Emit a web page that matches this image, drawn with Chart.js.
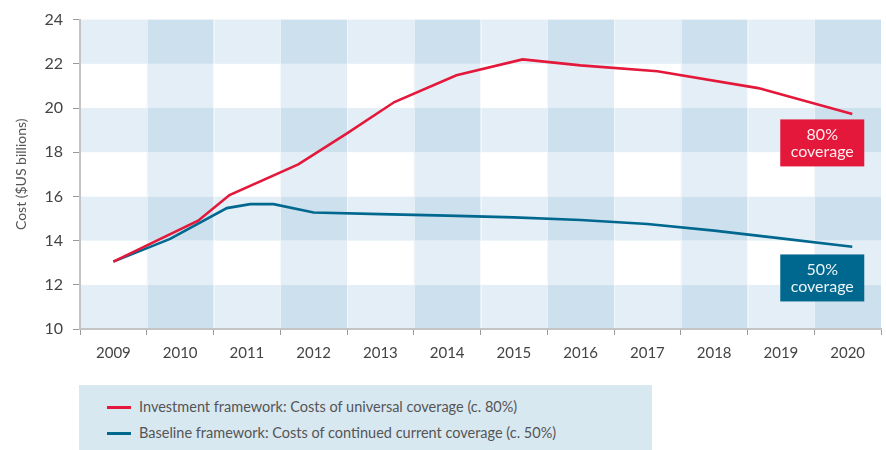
<!DOCTYPE html>
<html>
<head>
<meta charset="utf-8">
<script src="https://cdn.jsdelivr.net/npm/chart.js@4.4.1/dist/chart.umd.min.js"></script>
<style>
  html, body { margin: 0; padding: 0; background: #fff; }
  #wrap { position: relative; width: 886px; height: 450px; overflow: hidden; }
  #c { position: absolute; left: 0; top: 0; }
  #legend { position: absolute; left: 79px; top: 385px; width: 573px; height: 65px; background: #d8e8f1;
    font-family: Lato, "Open Sans", sans-serif; font-size: 14.5px; color: #555; }
  .item { position: absolute; left: 28px; height: 20px; line-height: 20px; white-space: nowrap; }
  .item i { display: inline-block; width: 24px; height: 3px; vertical-align: middle; margin-right: 8px; position: relative; top: -1px; }
</style>
</head>
<body>
<div id="wrap">
  <canvas id="c" width="886" height="450"></canvas>
  <div id="legend"></div>
</div>
<script>
// ---- data ----
const years = ["2009","2010","2011","2012","2013","2014","2015","2016","2017","2018","2019","2020"];
const yTicks = [10, 12, 14, 16, 18, 20, 22, 24];
const seriesNames = [
  "Investment framework: Costs of universal coverage (c. 80%)",
  "Baseline framework: Costs of continued current coverage (c. 50%)"
];
const investX = [2009, 2010.27, 2010.74, 2011.77, 2012.5, 2013.21, 2014.14, 2015.13, 2016.0, 2017.15, 2018.66, 2020.07];
const investY = [13.05, 14.9, 16.06, 17.45, 18.85, 20.27, 21.48, 22.2, 21.93, 21.66, 20.9, 19.73];
const baselineX = [2009, 2009.85, 2010.7, 2011.05, 2011.4, 2012.0, 2013, 2014, 2015, 2016, 2017, 2018, 2019, 2020.07];
const baselineY = [13.05, 14.08, 15.47, 15.65, 15.65, 15.27, 15.2, 15.13, 15.05, 14.93, 14.75, 14.45, 14.1, 13.72];
const tagLines = [["80%", "coverage"], ["50%", "coverage"]];

// ---- styles ----
const RED = "#e4183a";
const BLUE = "#00688f";
const tagBoxes = [ // data-space anchor for the end tags (x center, y center)
  { x: 2019.62, y: 18.42, color: RED },
  { x: 2019.62, y: 12.31, color: BLUE }
];

const toPts = (xs, ys) => xs.map((x, i) => ({ x, y: ys[i] }));

const checkerPlugin = {
  id: 'checker',
  beforeDraw(chart) {
    const { ctx, chartArea: a, scales } = chart;
    const ys = scales.y;
    const n = years.length;
    const w = (a.right - a.left) / n;
    const shades = ["#ffffff", "#e3eef6", "#cde0ed"];
    ctx.save();
    for (let i = 0; i < n; i++) {
      for (let j = 0; j < yTicks.length - 1; j++) {
        const lvl = (i % 2 === 1 ? 1 : 0) + (j % 2 === 0 ? 1 : 0);
        const x0 = a.left + i * w, x1 = a.left + (i + 1) * w;
        const y0 = ys.getPixelForValue(yTicks[j + 1]), y1 = ys.getPixelForValue(yTicks[j]);
        ctx.fillStyle = shades[lvl];
        ctx.fillRect(x0, y0, x1 - x0, y1 - y0);
      }
    }
    ctx.strokeStyle = "rgba(255,255,255,0.45)";
    ctx.lineWidth = 1;
    for (let i = 1; i < n; i++) {
      const x = Math.round(a.left + i * w) + 0.5;
      ctx.beginPath(); ctx.moveTo(x, a.top); ctx.lineTo(x, a.bottom); ctx.stroke();
    }
    ctx.restore();
  }
};

const tagPlugin = {
  id: 'tags',
  afterDatasetsDraw(chart) {
    const { ctx, scales } = chart;
    const xs = scales.xl, ys = scales.y;
    ctx.save();
    tagBoxes.forEach((b, k) => {
      const cx = xs.getPixelForValue(b.x), cy = ys.getPixelForValue(b.y);
      const bw = 84, bh = 47;
      ctx.fillStyle = b.color;
      ctx.fillRect(cx - bw / 2, cy - bh / 2, bw, bh);
      ctx.fillStyle = "rgba(255,255,255,0.92)";
      ctx.font = "16px Lato, 'Open Sans', sans-serif";
      ctx.textAlign = "center";
      ctx.textBaseline = "middle";
      ctx.fillText(tagLines[k][0], cx, cy - 8);
      ctx.fillText(tagLines[k][1], cx, cy + 9);
    });
    ctx.restore();
  }
};

new Chart(document.getElementById('c'), {
  type: 'line',
  data: {
    labels: years,
    datasets: [
      { label: seriesNames[0], data: toPts(investX, investY), xAxisID: 'xl', borderColor: RED, borderWidth: 2.6, pointRadius: 0, tension: 0, fill: false },
      { label: seriesNames[1], data: toPts(baselineX, baselineY), xAxisID: 'xl', borderColor: BLUE, borderWidth: 2.6, pointRadius: 0, tension: 0, fill: false }
    ]
  },
  options: {
    responsive: false,
    animation: false,
    layout: { padding: { left: 0, right: 5, top: 17, bottom: 91 } },
    plugins: { legend: { display: false }, tooltip: { enabled: false } },
    scales: {
      x: {
        type: 'category',
        offset: true,
        grid: { offset: true, drawOnChartArea: false, drawTicks: true, tickLength: 6, color: '#9a9a9a' },
        border: { display: true, color: '#c4c4c4', width: 2 },
        ticks: { color: '#444', font: { family: "Lato, 'Open Sans', sans-serif", size: 15 }, padding: 9, maxRotation: 0 },
        afterFit(s) { s.height = 30; }
      },
      xl: {
        type: 'linear', display: false, min: 2008.5, max: 2020.5
      },
      y: {
        min: 10, max: 24,
        afterBuildTicks(s) { s.ticks = yTicks.map(v => ({ value: v })); },
        grid: { drawOnChartArea: false, drawTicks: true, tickLength: 7, color: '#9a9a9a' },
        border: { display: true, color: '#c4c4c4', width: 2 },
        ticks: { color: '#444', font: { family: "Lato, 'Open Sans', sans-serif", size: 16 }, padding: 10 },
        title: { display: true, text: 'Cost ($US billions)', color: '#555', font: { family: "Lato, 'Open Sans', sans-serif", size: 14 }, padding: { top: 13, bottom: 0 } },
        afterFit(s) { s.width = 80; }
      }
    }
  },
  plugins: [checkerPlugin, tagPlugin]
});

// HTML legend
const leg = document.getElementById('legend');
[RED, BLUE].forEach((col, k) => {
  const d = document.createElement('div');
  d.className = 'item';
  d.style.top = (k === 0 ? 12 : 38) + 'px';
  d.innerHTML = '<i style="background:' + col + '"></i>';
  d.appendChild(document.createTextNode(seriesNames[k]));
  leg.appendChild(d);
});
</script>
</body>
</html>
